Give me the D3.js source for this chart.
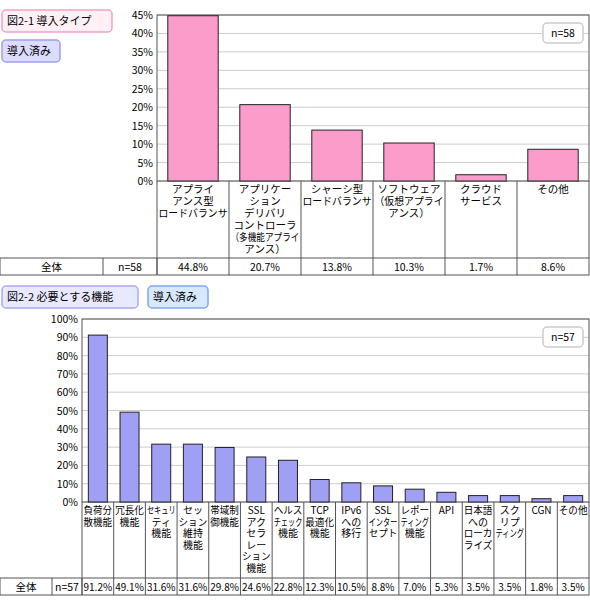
<!DOCTYPE html><html><head><meta charset="utf-8"><script src="https://d3js.org/d3.v7.min.js"></script>
<style>body{margin:0;background:#fff}text{font-family:"Noto Sans CJK JP",sans-serif}</style></head><body><svg id="s" width="590" height="600"></svg>
<script>
const cats1=["アプライ|アンス型|ロードバランサ","アプリケー|ション|デリバリ|コントローラ|（多機能アプライ|アンス）","シャーシ型|ロードバランサ","ソフトウェア|（仮想アプライ|アンス）","クラウド|サービス","その他"];
const vals1=[44.8,20.7,13.8,10.3,1.7,8.6];
const ticks1=[0,5,10,15,20,25,30,35,40,45];
const cats2=["負荷分|散機能","冗長化|機能","セキュリ|ティ|機能","セッ|ション|維持|機能","帯域制|御機能","SSL|アク|セラ|レー|ション|機能","ヘルス|チェック|機能","TCP|最適化|機能","IPv6|への|移行","SSL|インター|セプト","レポー|ティング|機能","API","日本語|への|ローカ|ライズ","スク|リプ|ティング","CGN","その他"];
const vals2=[91.2,49.1,31.6,31.6,29.8,24.6,22.8,12.3,10.5,8.8,7.0,5.3,3.5,3.5,1.8,3.5];
const ticks2=[0,10,20,30,40,50,60,70,80,90,100];
const svg=d3.select("#s");
function badge(x,y,w,h,t,stroke,fill){svg.append("rect").attr("x",x).attr("y",y).attr("width",w).attr("height",h).attr("rx",4).attr("fill",fill).attr("stroke",stroke).attr("stroke-width",1.5);
svg.append("text").attr("x",x+5).attr("y",y+h/2+4).attr("font-size",11).text(t);}
function fit(t,w){const n=t.node();const L=n.getComputedTextLength();if(L>w)t.attr("textLength",w).attr("lengthAdjust","spacingAndGlyphs");}
function chart(o){
 const x=d3.scaleBand().domain(o.cats).range([o.x0,o.x1]).paddingInner(o.pad).paddingOuter(o.pad/2);
 const xb=d3.scaleBand().domain(o.cats).range([o.x0,o.x1]);
 const y=d3.scaleLinear().domain([0,o.max]).range([o.y0,o.y1]);
 const g=svg.append("g");
 g.selectAll(".gl").data(o.ticks).join("line").attr("x1",o.x0).attr("x2",o.x1).attr("y1",d=>y(d)).attr("y2",d=>y(d)).attr("stroke","#ccc");
 g.append("rect").attr("x",o.x0).attr("y",o.y1).attr("width",o.x1-o.x0).attr("height",o.y0-o.y1).attr("fill","none").attr("stroke","#555");
 g.selectAll(".tk").data(o.ticks).join("text").attr("x",o.x0-4).attr("y",d=>y(d)+4).attr("text-anchor","end").attr("font-size",10.5).text(d=>d+"%");
 g.selectAll(".b").data(o.vals).join("rect").attr("x",(d,i)=>x(o.cats[i])).attr("y",d=>y(d)).attr("width",x.bandwidth()).attr("height",d=>o.y0-y(d)).attr("fill",o.color).attr("stroke","#222");
 g.selectAll(".vl").data(o.cats.concat([null])).join("line").attr("x1",(d,i)=>i<o.cats.length?xb(d):o.x1).attr("x2",(d,i)=>i<o.cats.length?xb(d):o.x1).attr("y1",o.y0).attr("y2",o.tb).attr("stroke","#555");
 o.cats.forEach((c,i)=>{
  c.split("|").forEach((l,j)=>{const t=g.append("text").attr("font-size",o.fs).attr("text-anchor","middle").attr("x",xb(c)+xb.bandwidth()/2).attr("y",o.y0+12+j*o.lh).text(l);fit(t,xb.bandwidth()-3);});});
 const rh=17;
 g.append("rect").attr("x",0).attr("y",o.tb).attr("width",o.x1).attr("height",rh).attr("fill","none").attr("stroke","#555");
 g.append("line").attr("x1",o.c1).attr("x2",o.c1).attr("y1",o.tb).attr("y2",o.tb+rh).attr("stroke","#555");
 g.append("line").attr("x1",o.x0).attr("x2",o.x0).attr("y1",o.tb).attr("y2",o.tb+rh).attr("stroke","#555");
 g.append("text").attr("x",o.c1/2).attr("y",o.tb+13).attr("text-anchor","middle").attr("font-size",10.5).text("全体");
 g.append("text").attr("x",(o.c1+o.x0)/2).attr("y",o.tb+13).attr("text-anchor","middle").attr("font-size",10.5).text(o.n);
 o.cats.forEach((c,i)=>{g.append("line").attr("x1",xb(c)).attr("x2",xb(c)).attr("y1",o.tb).attr("y2",o.tb+rh).attr("stroke","#555");
  const t=g.append("text").attr("x",xb(c)+xb.bandwidth()/2).attr("y",o.tb+13).attr("text-anchor","middle").attr("font-size",o.vfs).text(o.vals[i].toFixed(1)+"%");fit(t,xb.bandwidth()-2);});
 g.append("rect").attr("x",o.x1-46).attr("y",o.y1+8).attr("width",40).attr("height",20).attr("rx",4).attr("fill","#fff").attr("stroke","#ccc").attr("stroke-width",1.5);
 g.append("text").attr("x",o.x1-26).attr("y",o.y1+22).attr("text-anchor","middle").attr("font-size",10.5).text(o.n);
}
chart({cats:cats1,vals:vals1,ticks:ticks1,max:45,x0:157,x1:589,y0:181,y1:15,tb:258,c1:103,n:"n=58",color:"#fb9ccb",pad:0.3,fs:10.5,lh:12,vfs:10.5});
chart({cats:cats2,vals:vals2,ticks:ticks2,max:100,x0:82,x1:589,y0:502,y1:319,tb:578,c1:52,n:"n=57",color:"#9f9ff3",pad:0.4,fs:10,lh:11.5,vfs:10});
badge(2,10,110,22,"図2-1 導入タイプ","#f3a0c8","#fff0f6");
badge(2,40,58,22,"導入済み","#9f9ff0","#dcdcff");
badge(2,286,136,22,"図2-2 必要とする機能","#a9a9f0","#e8e8ff");
badge(148,286,60,22,"導入済み","#7ea8f0","#d8e8ff");
</script></body></html>
